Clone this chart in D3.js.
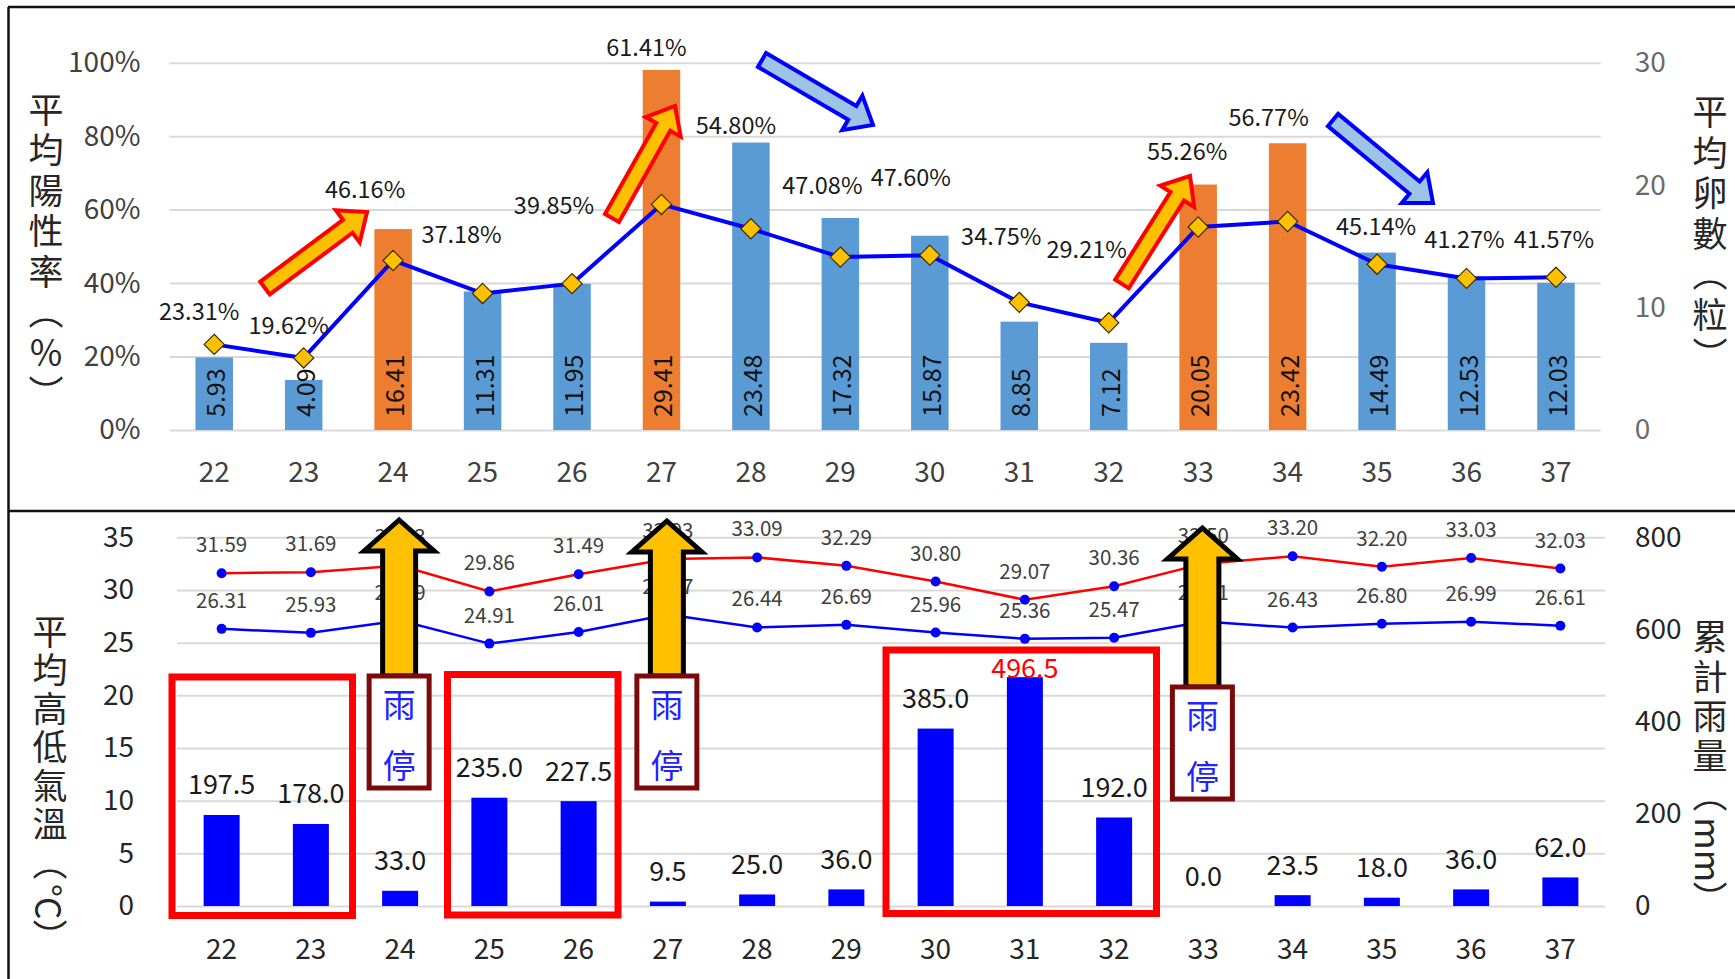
<!DOCTYPE html>
<html><head><meta charset="utf-8">
<script src="https://cdn.jsdelivr.net/npm/d3@7"></script>
<style>
html,body{margin:0;padding:0;background:#fff;}
svg{display:block;font-family:"Noto Sans CJK TC","Noto Sans",sans-serif;}
</style></head><body>
<svg id="chart" width="1735" height="979"></svg>
<script>
// ---------------- DATA ----------------
const weeks = ["22","23","24","25","26","27","28","29","30","31","32","33","34","35","36","37"];
const eggCounts = [5.93, 4.09, 16.41, 11.31, 11.95, 29.41, 23.48, 17.32, 15.87, 8.85, 7.12, 20.05, 23.42, 14.49, 12.53, 12.03];
const eggPeakWeeks = ["24","27","33","34"];
const positiveRate = [23.31, 19.62, 46.16, 37.18, 39.85, 61.41, 54.80, 47.08, 47.60, 34.75, 29.21, 55.26, 56.77, 45.14, 41.27, 41.57];
const tempHigh = [31.59, 31.69, 32.33, 29.86, 31.49, 32.93, 33.09, 32.29, 30.80, 29.07, 30.36, 32.50, 33.20, 32.20, 33.03, 32.03];
const tempLow  = [26.31, 25.93, 27.09, 24.91, 26.01, 27.67, 26.44, 26.69, 25.96, 25.36, 25.47, 27.01, 26.43, 26.80, 26.99, 26.61];
const rainfall = [197.5, 178.0, 33.0, 235.0, 227.5, 9.5, 25.0, 36.0, 385.0, 496.5, 192.0, 0.0, 23.5, 18.0, 36.0, 62.0];
const rainStopWeeks = ["24","27","33"];
const pctTicks = [0, 20, 40, 60, 80, 100];
const eggTicks = [0, 10, 20, 30];
const tempTicks = [0, 5, 10, 15, 20, 25, 30, 35];
const rainTicks = [0, 200, 400, 600, 800];

// ---------------- LAYOUT (annotation placement, not data) ----------------
const rateLabelShift = [[-15,-34],[-15,-34],[-28,-72],[-21,-60],[-18,-80],[-15,-158],[-15,-105],[-18,-73],
                        [-19,-79],[-18,-67],[-22,-75],[-11,-77],[-19,-105],[-1,-39],[-2,-40],[-2,-39]];
const topArrows = [
  {from:[265,288], to:[367,212], kind:"up"},
  {from:[612,218], to:[675,106], kind:"up"},
  {from:[762,60],  to:[873,125], kind:"down"},
  {from:[1122,284],to:[1190,176],kind:"up"},
  {from:[1333,120],to:[1433,203],kind:"down"}
];
const groupBoxes = [[172,677,352.5,915.5],[447.5,674.5,618,915],[886,650,1156.5,913.5]];

const W = 1735, H = 979;
const svg = d3.select("#chart");
const TXT = "#404040";

// frame
const frame = svg.append("g").attr("stroke","#111").attr("stroke-width",2.5);
frame.append("line").attr("x1",8).attr("x2",W).attr("y1",7).attr("y2",7);
frame.append("line").attr("x1",8.5).attr("x2",8.5).attr("y1",7).attr("y2",H);
frame.append("line").attr("x1",8).attr("x2",W).attr("y1",511).attr("y2",511);

// ---------------- TOP PANEL ----------------
const xTop = d3.scaleBand().domain(weeks).range([169.5, 1600.7]);
const yPct = d3.scaleLinear().domain([0,100]).range([430, 62.7]);
const yEgg = d3.scaleLinear().domain([0,30]).range([430, 62.7]);
const cxTop = w => xTop(w) + xTop.bandwidth()/2;

function styleAxis(g, color, size){
  g.select(".domain").remove();
  g.selectAll(".tick line").attr("stroke","#d9d9d9").attr("stroke-width",2);
  g.selectAll(".tick text").attr("fill",color).attr("font-size",size)
    .attr("font-family",'"Noto Sans CJK TC","Noto Sans",sans-serif');
}

const gTopL = svg.append("g").attr("transform","translate(169.5,0)")
  .call(d3.axisLeft(yPct).tickValues(pctTicks).tickSize(-(1600.7-169.5)).tickPadding(29).tickFormat(d=>d+"%"));
styleAxis(gTopL, TXT, 28);
const gTopR = svg.append("g").attr("transform","translate(1600.7,0)")
  .call(d3.axisRight(yEgg).tickValues(eggTicks).tickSize(0).tickPadding(34));
styleAxis(gTopR, "#6b6b6b", 28);
const gTopX = svg.append("g").attr("transform","translate(0,430)")
  .call(d3.axisBottom(xTop).tickSize(0));
styleAxis(gTopX, TXT, 28);
gTopX.selectAll(".tick text").attr("dy",null).attr("y",40).attr("dominant-baseline","central");

// bars
const barWTop = 37.5;
svg.append("g").selectAll("rect").data(weeks).join("rect")
  .attr("x", w => cxTop(w) - barWTop/2)
  .attr("width", barWTop)
  .attr("y", (w,i) => yEgg(eggCounts[i]))
  .attr("height", (w,i) => yEgg(0) - yEgg(eggCounts[i]))
  .attr("fill", w => eggPeakWeeks.includes(w) ? "#ED7D31" : "#5B9BD5");
// bar labels (rotated)
svg.append("g").selectAll("text").data(weeks).join("text")
  .attr("transform", w => `translate(${cxTop(w)},${yEgg(0)-13}) rotate(-90)`)
  .attr("dominant-baseline","central")
  .attr("font-size",25).attr("fill","#111")
  .text((w,i) => eggCounts[i].toFixed(2));

// rate line
const rateLine = d3.line().x((d,i)=>cxTop(weeks[i])).y(d=>yPct(d));
svg.append("path").datum(positiveRate).attr("d",rateLine)
  .attr("fill","none").attr("stroke","#0000FF").attr("stroke-width",4).attr("stroke-linejoin","round");
svg.append("g").selectAll("path").data(positiveRate).join("path")
  .attr("d", d3.symbol(d3.symbolDiamond2, 260))
  .attr("transform",(d,i)=>`translate(${cxTop(weeks[i])},${yPct(d)})`)
  .attr("fill","#FFC000").attr("stroke","#3a3000").attr("stroke-width",1.2);
svg.append("g").selectAll("text").data(positiveRate).join("text")
  .attr("x",(d,i)=>cxTop(weeks[i]) + rateLabelShift[i][0])
  .attr("y",(d,i)=>yPct(d) + rateLabelShift[i][1])
  .attr("text-anchor","middle").attr("dominant-baseline","central")
  .attr("font-size",23.5).attr("fill","#1a1a1a")
  .text(d => d.toFixed(2)+"%");

// block arrows
function blockArrow(p1, p2, sw, hw, hl){
  const [x1,y1]=p1,[x2,y2]=p2;
  const L=Math.hypot(x2-x1,y2-y1), ux=(x2-x1)/L, uy=(y2-y1)/L, px=-uy, py=ux;
  const bx=x2-ux*hl, by=y2-uy*hl;
  const pts=[[x1+px*sw/2,y1+py*sw/2],[bx+px*sw/2,by+py*sw/2],[bx+px*hw/2,by+py*hw/2],[x2,y2],
             [bx-px*hw/2,by-py*hw/2],[bx-px*sw/2,by-py*sw/2],[x1-px*sw/2,y1-py*sw/2]];
  return "M"+pts.map(p=>p.join(",")).join("L")+"Z";
}
svg.append("g").selectAll("path").data(topArrows).join("path")
  .attr("d", a => blockArrow(a.from, a.to, 16, 40, 24))
  .attr("fill", a => a.kind==="up" ? "#FFC000" : "#9DC3E6")
  .attr("stroke", a => a.kind==="up" ? "#FF0000" : "#0000FF")
  .attr("stroke-width",4).attr("stroke-linejoin","miter");

// vertical titles: segments of [text, letterSpacing]
function vtitle(x, y, segs, size){
  const t = svg.append("text").attr("x",x).attr("y",y).attr("text-anchor","middle")
    .attr("font-size",size).attr("fill","#262626")
    .style("writing-mode","vertical-rl").style("text-orientation","mixed");
  segs.forEach(s => t.append("tspan").attr("letter-spacing",s[1]).text(s[0]));
}
vtitle(46, 254, [["平均陽性率（％）",5.5]], 35);
vtitle(1710, 236, [["平均卵數（粒）",5.5]], 35);

// ---------------- BOTTOM PANEL ----------------
const xBot = d3.scaleBand().domain(weeks).range([177, 1605]);
const yTemp = d3.scaleLinear().domain([0,35]).range([906, 537.3]);
const yRain = d3.scaleLinear().domain([0,800]).range([906, 537.3]);
const cxBot = w => xBot(w) + xBot.bandwidth()/2;

const gBotL = svg.append("g").attr("transform","translate(177,0)")
  .call(d3.axisLeft(yTemp).tickValues(tempTicks).tickSize(-(1605-177)).tickPadding(43));
styleAxis(gBotL, "#262626", 28);
const gBotR = svg.append("g").attr("transform","translate(1605,0)")
  .call(d3.axisRight(yRain).tickValues(rainTicks).tickSize(0).tickPadding(30));
styleAxis(gBotR, "#262626", 28);
const gBotX = svg.append("g").attr("transform","translate(0,906)")
  .call(d3.axisBottom(xBot).tickSize(0));
styleAxis(gBotX, "#262626", 28);
gBotX.selectAll(".tick text").attr("dy",null).attr("y",41).attr("dominant-baseline","central");

// rain bars
const barWBot = 36;
svg.append("g").selectAll("rect").data(weeks).join("rect")
  .attr("x", w => cxBot(w) - barWBot/2).attr("width", barWBot)
  .attr("y",(w,i)=>yRain(rainfall[i]))
  .attr("height",(w,i)=>yRain(0)-yRain(rainfall[i]))
  .attr("fill","#0000FF");
const maxRain = d3.max(rainfall);
svg.append("g").selectAll("text").data(rainfall).join("text")
  .attr("x",(d,i)=>cxBot(weeks[i]))
  .attr("y",d=>yRain(d) - (d===maxRain ? 11 : 32))
  .attr("text-anchor","middle").attr("dominant-baseline","central")
  .attr("font-size",27).attr("fill",d=>d===maxRain ? "#FF0000" : "#1a1a1a")
  .text(d=>d.toFixed(1));

// temperature lines
function tempSeries(vals, color){
  const line = d3.line().x((d,i)=>cxBot(weeks[i])).y(d=>yTemp(d));
  svg.append("path").datum(vals).attr("d",line).attr("fill","none")
    .attr("stroke",color).attr("stroke-width",2.5);
  svg.append("g").selectAll("circle").data(vals).join("circle")
    .attr("cx",(d,i)=>cxBot(weeks[i])).attr("cy",d=>yTemp(d)).attr("r",5).attr("fill","#0000FF");
  svg.append("g").selectAll("text").data(vals).join("text")
    .attr("x",(d,i)=>cxBot(weeks[i])).attr("y",d=>yTemp(d)-30)
    .attr("text-anchor","middle").attr("dominant-baseline","central")
    .attr("font-size",20.5).attr("fill","#404040")
    .text(d=>d.toFixed(2));
}
tempSeries(tempHigh, "#FF0000");
tempSeries(tempLow, "#0000FF");

// heavy rain group boxes
svg.append("g").selectAll("rect").data(groupBoxes).join("rect")
  .attr("x",b=>b[0]).attr("y",b=>b[1]).attr("width",b=>b[2]-b[0]).attr("height",b=>b[3]-b[1])
  .attr("fill","none").attr("stroke","#FF0000").attr("stroke-width",7);

// rain-stop boxes + up arrows
const stopTop = {"24":676,"27":676,"33":687};
const stopArrowTip = {"24":520,"27":521,"33":528};
rainStopWeeks.forEach(w=>{
  const cx = cxBot(w) - 1, top = stopTop[w], tip = stopArrowTip[w];
  const hb = tip + 31;
  const p = [[cx-16.5,top],[cx-16.5,hb],[cx-35,hb],[cx,tip],[cx+35,hb],[cx+16.5,hb],[cx+16.5,top]];
  svg.append("path").attr("d","M"+p.map(q=>q.join(",")).join("L")+"Z")
    .attr("fill","#FFC000").attr("stroke","#000").attr("stroke-width",5).attr("stroke-linejoin","miter");
  svg.append("rect").attr("x",cx-30).attr("y",top).attr("width",60).attr("height",112)
    .attr("fill","#fff").attr("stroke","#7B0A0A").attr("stroke-width",5);
  svg.append("text").attr("x",cx).attr("y",top+27).attr("text-anchor","middle").attr("dominant-baseline","central")
    .attr("font-size",33).attr("fill","#2222FF").text("雨");
  svg.append("text").attr("x",cx).attr("y",top+88).attr("text-anchor","middle").attr("dominant-baseline","central")
    .attr("font-size",33).attr("fill","#2222FF").text("停");
});

vtitle(50, 784, [["平均高低氣溫（",3.5],["°C",0],["）",0]], 35);
vtitle(1710, 768, [["累計雨量（",4.5],["mm",0],["）",0]], 35);
</script>
</body></html>
